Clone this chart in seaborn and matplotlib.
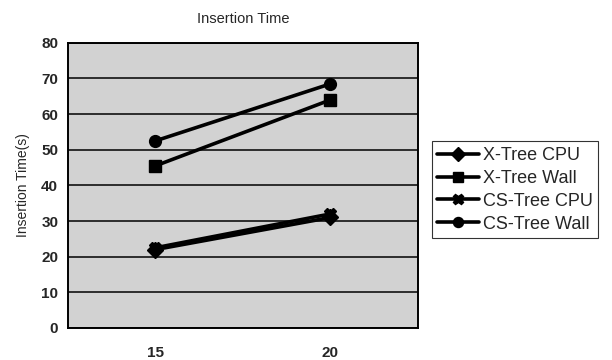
import seaborn as sns
import pandas as pd
import matplotlib.pyplot as plt

# data
sizes = ["15", "20"]
x_cpu = [22, 31]
x_wall = [45.5, 64]
cs_cpu = [22.5, 32]
cs_wall = [52.5, 68.5]

series = {"X-Tree CPU": x_cpu, "X-Tree Wall": x_wall,
          "CS-Tree CPU": cs_cpu, "CS-Tree Wall": cs_wall}
rows = []
for name, vals in series.items():
    for s, v in zip(sizes, vals):
        rows.append({"size": s, "time": v, "series": name})
df = pd.DataFrame(rows)

sns.set_style("white")
plt.rcParams['font.family'] = ['Liberation Sans', 'DejaVu Sans']

fig = plt.figure(figsize=(6.12, 3.6), dpi=100)
ax = fig.add_axes([0.111, 0.089, 0.572, 0.792])
ax.set_facecolor('#d2d2d2')

markers = {"X-Tree CPU": "D", "X-Tree Wall": "s",
           "CS-Tree CPU": "X", "CS-Tree Wall": "o"}
palette = {k: "black" for k in series}
sns.lineplot(data=df, x="size", y="time", hue="series", style="series",
             markers=markers, dashes=False, palette=palette, ax=ax,
             linewidth=2.6, markersize=8.5, markeredgewidth=1.0,
             markeredgecolor="black", sort=False)

ax.set_xlim(-0.5, 1.5)
ax.set_ylim(0, 80)
ax.set_yticks(range(0, 81, 10))
ax.yaxis.grid(True, color='black', linewidth=1.1)
ax.set_axisbelow(True)
for sp in ax.spines.values():
    sp.set_color('black')
    sp.set_linewidth(1.4)
ax.tick_params(axis='both', length=0, labelsize=11, pad=7)
for lab in ax.get_xticklabels() + ax.get_yticklabels():
    lab.set_fontweight('bold')
ax.tick_params(axis='x', pad=13)
ax.set_xlabel("")
ax.set_ylabel("Insertion Time(s)", fontsize=10, labelpad=8)
ax.set_title("Insertion Time", fontsize=10.5, pad=14)

leg = ax.legend(loc='upper left', bbox_to_anchor=(0.706, 0.607),
                bbox_transform=fig.transFigure, frameon=True, fontsize=13,
                handlelength=2.3, handletextpad=0.2, borderpad=0.3,
                labelspacing=0.33, borderaxespad=0, fancybox=False,
                markerscale=0.85)
leg.get_frame().set_edgecolor('black')
leg.get_frame().set_linewidth(0.8)

fig.savefig("out.png", dpi=100)
